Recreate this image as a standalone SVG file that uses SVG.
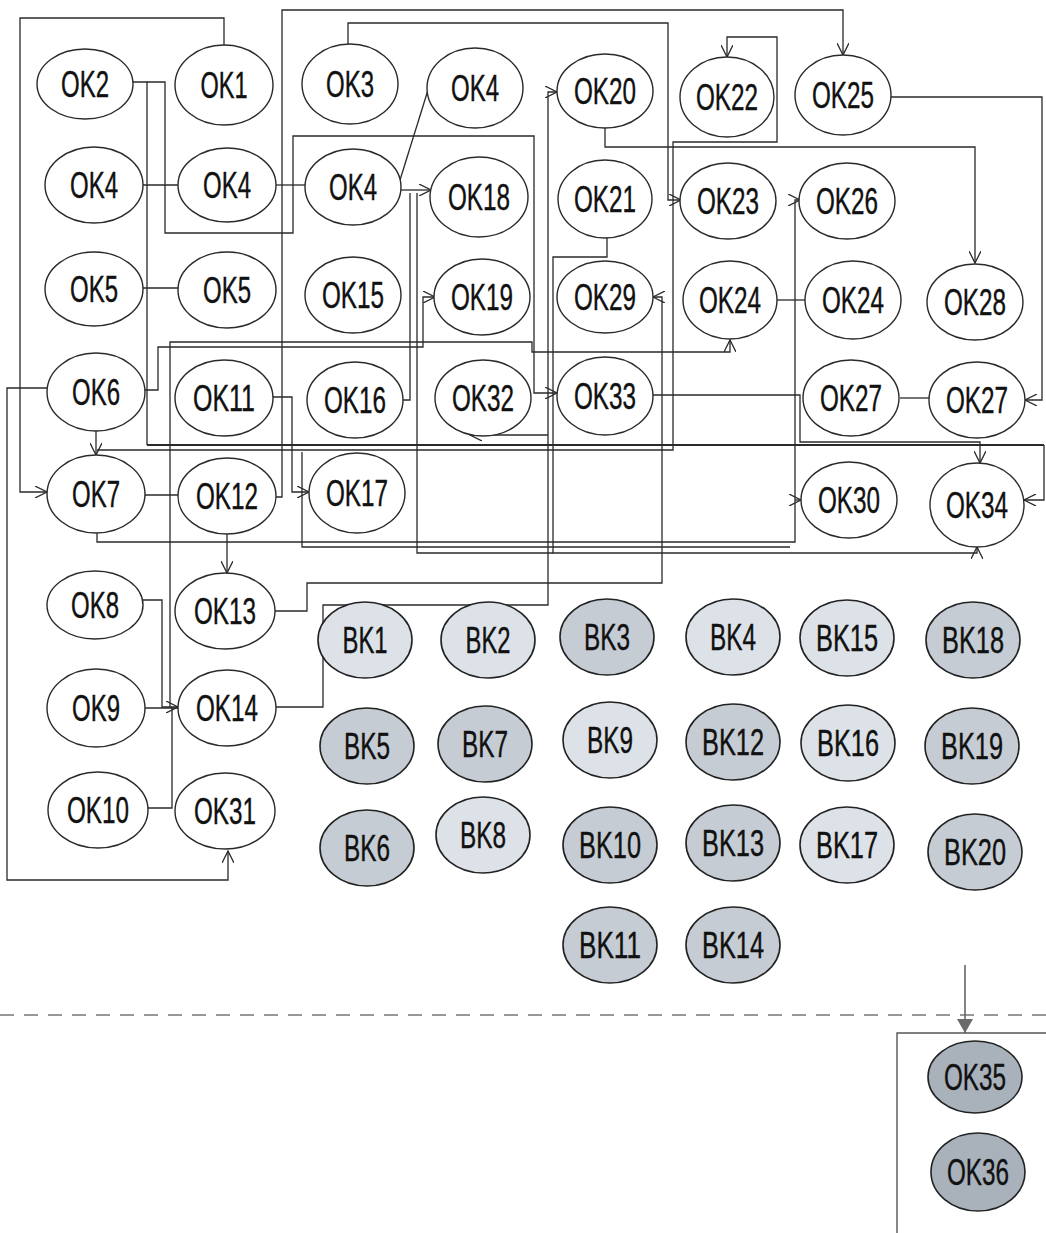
<svg xmlns="http://www.w3.org/2000/svg" width="1046" height="1233" viewBox="0 0 1046 1233">
<defs>
<marker id="ar" markerUnits="userSpaceOnUse" markerWidth="14" markerHeight="12" refX="12" refY="6" orient="auto">
<path d="M0,0 L12,6 L0,12" fill="none" stroke="#2a2a2a" stroke-width="1.3"/>
</marker>
<marker id="fa" markerUnits="userSpaceOnUse" markerWidth="16" markerHeight="16" refX="14" refY="8" orient="auto">
<path d="M0,0 L14,8 L0,16 Z" fill="#6a6a6a"/>
</marker>
</defs>
<style>
.n ellipse{fill:#fff;stroke:#2a2a2a;stroke-width:1.4}
.b ellipse{fill:#dde2e8;stroke:#222;stroke-width:1.6}
.m ellipse{fill:#c6ccd4;stroke:#222;stroke-width:1.6}
.d ellipse{fill:#a9b1bb;stroke:#222;stroke-width:1.6}
text{font-family:"Liberation Sans",Arial,sans-serif;font-size:36px;fill:#111;stroke:#111;stroke-width:0.4;text-anchor:middle}
.c path{fill:none;stroke:#2a2a2a;stroke-width:1.3}
.c path.a{marker-end:url(#ar)}
.c path.t{stroke-width:2}
</style>
<rect width="1046" height="1233" fill="#fff"/>
<g class="c" id="connectors">
<path class="a" d="M224,45 V18 H20 V492 H47"/>
<path class="a" d="M47,388 H7 V880 H228 V851"/>
<path class="a" d="M96,431 V455"/>
<path d="M133,82 H147 V445"/>
<path class="t" d="M147,445 H1044"/>
<path class="a" d="M1044,445 V500 H1024"/>
<path class="a" d="M147,82 H165 V233 H293 V136 H534 V393 H557"/>
<path class="a" d="M891,97 H1042 V400 H1025"/>
<path d="M143,185 H178"/>
<path d="M276,185 H305"/>
<path d="M143,288 H178"/>
<path d="M400,180 L428,90"/>
<path class="a" d="M401,190 H431"/>
<path d="M403,400 H410 V193"/>
<path class="a" d="M145,390 H158 V347 H423 V297 H435"/>
<path class="a" d="M170,707 V342 H532 V352 H730 V340"/>
<path class="a" d="M143,600 H162 V707 H178"/>
<path d="M145,708 H178"/>
<path d="M148,808 H172 V707"/>
<path class="a" d="M276,707 H323 V605 H548 V92 H557"/>
<path class="a" d="M275,611 H307 V583 H662 V297 H653"/>
<path class="a" d="M348,44 V23 H668 V200 H681"/>
<path class="a" d="M605,128 V147 H975 V263"/>
<path class="a" d="M97,450 H673 V142 H777 V37 H727 V57"/>
<path class="a" d="M276,497 H282 V10 H843 V55"/>
<path class="a" d="M273,397 H292 V492 H309"/>
<path class="a" d="M227,534 V573"/>
<path class="a" d="M97,533 V542 H795 V200 H800"/>
<path class="a" d="M795,500 H801"/>
<path class="a" d="M607,238 V257 H553 V553 H977 V547"/>
<path d="M417,193 V553 H553"/>
<path class="a" d="M653,395 H800 V442 H980 V463"/>
<path class="a" d="M548,435 H470"/>
<path d="M145,495 H178"/>
<path d="M302,452 V547 H790"/>
<path d="M777,300 H805"/>
<path d="M900,398 H929"/>
<path d="M0,1015 H1046" style="stroke:#777;stroke-dasharray:14 10"/>
<path d="M965,965 V1033" style="stroke:#666;stroke-width:1.6;marker-end:url(#fa)"/>
<path d="M1046,1033 H897 V1233" style="stroke:#555;stroke-width:1.4"/>
</g>
<g id="OK2" class="n"><ellipse cx="85" cy="84" rx="48" ry="35"/><text x="85" y="97" textLength="48" lengthAdjust="spacingAndGlyphs">OK2</text></g>
<g id="OK1" class="n"><ellipse cx="224" cy="85" rx="49" ry="40"/><text x="224" y="98" textLength="47" lengthAdjust="spacingAndGlyphs">OK1</text></g>
<g id="OK3" class="n"><ellipse cx="350" cy="84" rx="48" ry="40"/><text x="350" y="97" textLength="48" lengthAdjust="spacingAndGlyphs">OK3</text></g>
<g id="OK4a" class="n"><ellipse cx="475" cy="88" rx="48" ry="40"/><text x="475" y="101" textLength="48" lengthAdjust="spacingAndGlyphs">OK4</text></g>
<g id="OK20" class="n"><ellipse cx="605" cy="91" rx="48" ry="37"/><text x="605" y="104" textLength="62" lengthAdjust="spacingAndGlyphs">OK20</text></g>
<g id="OK22" class="n"><ellipse cx="727" cy="97" rx="47" ry="40"/><text x="727" y="110" textLength="62" lengthAdjust="spacingAndGlyphs">OK22</text></g>
<g id="OK25" class="n"><ellipse cx="843" cy="95" rx="48" ry="40"/><text x="843" y="108" textLength="62" lengthAdjust="spacingAndGlyphs">OK25</text></g>
<g id="OK4b" class="n"><ellipse cx="94" cy="185" rx="49" ry="38"/><text x="94" y="198" textLength="48" lengthAdjust="spacingAndGlyphs">OK4</text></g>
<g id="OK4c" class="n"><ellipse cx="227" cy="185" rx="49" ry="37"/><text x="227" y="198" textLength="48" lengthAdjust="spacingAndGlyphs">OK4</text></g>
<g id="OK4d" class="n"><ellipse cx="353" cy="187" rx="48" ry="38"/><text x="353" y="200" textLength="48" lengthAdjust="spacingAndGlyphs">OK4</text></g>
<g id="OK18" class="n"><ellipse cx="479" cy="197" rx="49" ry="40"/><text x="479" y="210" textLength="62" lengthAdjust="spacingAndGlyphs">OK18</text></g>
<g id="OK21" class="n"><ellipse cx="605" cy="199" rx="47" ry="39"/><text x="605" y="212" textLength="62" lengthAdjust="spacingAndGlyphs">OK21</text></g>
<g id="OK23" class="n"><ellipse cx="728" cy="201" rx="48" ry="38"/><text x="728" y="214" textLength="62" lengthAdjust="spacingAndGlyphs">OK23</text></g>
<g id="OK26" class="n"><ellipse cx="847" cy="201" rx="48" ry="38"/><text x="847" y="214" textLength="62" lengthAdjust="spacingAndGlyphs">OK26</text></g>
<g id="OK5a" class="n"><ellipse cx="94" cy="289" rx="49" ry="37"/><text x="94" y="302" textLength="48" lengthAdjust="spacingAndGlyphs">OK5</text></g>
<g id="OK5b" class="n"><ellipse cx="227" cy="290" rx="49" ry="38"/><text x="227" y="303" textLength="48" lengthAdjust="spacingAndGlyphs">OK5</text></g>
<g id="OK15" class="n"><ellipse cx="353" cy="295" rx="48" ry="38"/><text x="353" y="308" textLength="62" lengthAdjust="spacingAndGlyphs">OK15</text></g>
<g id="OK19" class="n"><ellipse cx="482" cy="297" rx="48" ry="38"/><text x="482" y="310" textLength="62" lengthAdjust="spacingAndGlyphs">OK19</text></g>
<g id="OK29" class="n"><ellipse cx="605" cy="297" rx="48" ry="36"/><text x="605" y="310" textLength="62" lengthAdjust="spacingAndGlyphs">OK29</text></g>
<g id="OK24a" class="n"><ellipse cx="730" cy="300" rx="47" ry="39"/><text x="730" y="313" textLength="62" lengthAdjust="spacingAndGlyphs">OK24</text></g>
<g id="OK24b" class="n"><ellipse cx="853" cy="300" rx="48" ry="39"/><text x="853" y="313" textLength="62" lengthAdjust="spacingAndGlyphs">OK24</text></g>
<g id="OK28" class="n"><ellipse cx="975" cy="302" rx="48" ry="38"/><text x="975" y="315" textLength="62" lengthAdjust="spacingAndGlyphs">OK28</text></g>
<g id="OK6" class="n"><ellipse cx="96" cy="392" rx="49" ry="39"/><text x="96" y="405" textLength="48" lengthAdjust="spacingAndGlyphs">OK6</text></g>
<g id="OK11" class="n"><ellipse cx="224" cy="398" rx="49" ry="38"/><text x="224" y="411" textLength="62" lengthAdjust="spacingAndGlyphs">OK11</text></g>
<g id="OK16" class="n"><ellipse cx="355" cy="400" rx="48" ry="38"/><text x="355" y="413" textLength="62" lengthAdjust="spacingAndGlyphs">OK16</text></g>
<g id="OK32" class="n"><ellipse cx="483" cy="398" rx="48" ry="38"/><text x="483" y="411" textLength="62" lengthAdjust="spacingAndGlyphs">OK32</text></g>
<g id="OK33" class="n"><ellipse cx="605" cy="396" rx="48" ry="39"/><text x="605" y="409" textLength="62" lengthAdjust="spacingAndGlyphs">OK33</text></g>
<g id="OK27a" class="n"><ellipse cx="851" cy="398" rx="48" ry="38"/><text x="851" y="411" textLength="62" lengthAdjust="spacingAndGlyphs">OK27</text></g>
<g id="OK27b" class="n"><ellipse cx="977" cy="400" rx="48" ry="38"/><text x="977" y="413" textLength="62" lengthAdjust="spacingAndGlyphs">OK27</text></g>
<g id="OK7" class="n"><ellipse cx="96" cy="494" rx="49" ry="39"/><text x="96" y="507" textLength="48" lengthAdjust="spacingAndGlyphs">OK7</text></g>
<g id="OK12" class="n"><ellipse cx="227" cy="496" rx="49" ry="38"/><text x="227" y="509" textLength="62" lengthAdjust="spacingAndGlyphs">OK12</text></g>
<g id="OK17" class="n"><ellipse cx="357" cy="493" rx="48" ry="40"/><text x="357" y="506" textLength="62" lengthAdjust="spacingAndGlyphs">OK17</text></g>
<g id="OK30" class="n"><ellipse cx="849" cy="500" rx="48" ry="38"/><text x="849" y="513" textLength="62" lengthAdjust="spacingAndGlyphs">OK30</text></g>
<g id="OK34" class="n"><ellipse cx="977" cy="505" rx="47" ry="42"/><text x="977" y="518" textLength="62" lengthAdjust="spacingAndGlyphs">OK34</text></g>
<g id="OK8" class="n"><ellipse cx="95" cy="605" rx="48" ry="34"/><text x="95" y="618" textLength="48" lengthAdjust="spacingAndGlyphs">OK8</text></g>
<g id="OK13" class="n"><ellipse cx="225" cy="611" rx="50" ry="38"/><text x="225" y="624" textLength="62" lengthAdjust="spacingAndGlyphs">OK13</text></g>
<g id="OK9" class="n"><ellipse cx="96" cy="708" rx="49" ry="39"/><text x="96" y="721" textLength="48" lengthAdjust="spacingAndGlyphs">OK9</text></g>
<g id="OK14" class="n"><ellipse cx="227" cy="708" rx="49" ry="38"/><text x="227" y="721" textLength="62" lengthAdjust="spacingAndGlyphs">OK14</text></g>
<g id="OK10" class="n"><ellipse cx="98" cy="810" rx="50" ry="38"/><text x="98" y="823" textLength="62" lengthAdjust="spacingAndGlyphs">OK10</text></g>
<g id="OK31" class="n"><ellipse cx="225" cy="811" rx="50" ry="38"/><text x="225" y="824" textLength="62" lengthAdjust="spacingAndGlyphs">OK31</text></g>
<g id="BK1" class="b"><ellipse cx="365" cy="640" rx="47" ry="38"/><text x="365" y="653" textLength="45" lengthAdjust="spacingAndGlyphs">BK1</text></g>
<g id="BK2" class="b"><ellipse cx="488" cy="640" rx="47" ry="38"/><text x="488" y="653" textLength="45" lengthAdjust="spacingAndGlyphs">BK2</text></g>
<g id="BK3" class="m"><ellipse cx="607" cy="637" rx="47" ry="38"/><text x="607" y="650" textLength="46" lengthAdjust="spacingAndGlyphs">BK3</text></g>
<g id="BK4" class="b"><ellipse cx="733" cy="637" rx="47" ry="38"/><text x="733" y="650" textLength="46" lengthAdjust="spacingAndGlyphs">BK4</text></g>
<g id="BK15" class="b"><ellipse cx="847" cy="638" rx="47" ry="38"/><text x="847" y="651" textLength="62" lengthAdjust="spacingAndGlyphs">BK15</text></g>
<g id="BK18" class="m"><ellipse cx="973" cy="640" rx="47" ry="38"/><text x="973" y="653" textLength="62" lengthAdjust="spacingAndGlyphs">BK18</text></g>
<g id="BK5" class="m"><ellipse cx="367" cy="746" rx="47" ry="38"/><text x="367" y="759" textLength="46" lengthAdjust="spacingAndGlyphs">BK5</text></g>
<g id="BK7" class="m"><ellipse cx="485" cy="744" rx="47" ry="38"/><text x="485" y="757" textLength="46" lengthAdjust="spacingAndGlyphs">BK7</text></g>
<g id="BK9" class="b"><ellipse cx="610" cy="740" rx="47" ry="38"/><text x="610" y="753" textLength="46" lengthAdjust="spacingAndGlyphs">BK9</text></g>
<g id="BK12" class="m"><ellipse cx="733" cy="742" rx="47" ry="38"/><text x="733" y="755" textLength="62" lengthAdjust="spacingAndGlyphs">BK12</text></g>
<g id="BK16" class="b"><ellipse cx="848" cy="743" rx="47" ry="38"/><text x="848" y="756" textLength="62" lengthAdjust="spacingAndGlyphs">BK16</text></g>
<g id="BK19" class="m"><ellipse cx="972" cy="746" rx="47" ry="38"/><text x="972" y="759" textLength="62" lengthAdjust="spacingAndGlyphs">BK19</text></g>
<g id="BK6" class="m"><ellipse cx="367" cy="848" rx="47" ry="38"/><text x="367" y="861" textLength="46" lengthAdjust="spacingAndGlyphs">BK6</text></g>
<g id="BK8" class="b"><ellipse cx="483" cy="835" rx="47" ry="38"/><text x="483" y="848" textLength="46" lengthAdjust="spacingAndGlyphs">BK8</text></g>
<g id="BK10" class="m"><ellipse cx="610" cy="845" rx="47" ry="38"/><text x="610" y="858" textLength="62" lengthAdjust="spacingAndGlyphs">BK10</text></g>
<g id="BK13" class="m"><ellipse cx="733" cy="843" rx="47" ry="38"/><text x="733" y="856" textLength="62" lengthAdjust="spacingAndGlyphs">BK13</text></g>
<g id="BK17" class="b"><ellipse cx="847" cy="845" rx="47" ry="38"/><text x="847" y="858" textLength="62" lengthAdjust="spacingAndGlyphs">BK17</text></g>
<g id="BK20" class="m"><ellipse cx="975" cy="852" rx="47" ry="38"/><text x="975" y="865" textLength="62" lengthAdjust="spacingAndGlyphs">BK20</text></g>
<g id="BK11" class="m"><ellipse cx="610" cy="945" rx="47" ry="38"/><text x="610" y="958" textLength="62" lengthAdjust="spacingAndGlyphs">BK11</text></g>
<g id="BK14" class="m"><ellipse cx="733" cy="945" rx="47" ry="38"/><text x="733" y="958" textLength="62" lengthAdjust="spacingAndGlyphs">BK14</text></g>
<g id="OK35" class="d"><ellipse cx="975" cy="1077" rx="47" ry="36"/><text x="975" y="1090" textLength="62" lengthAdjust="spacingAndGlyphs">OK35</text></g>
<g id="OK36" class="d"><ellipse cx="978" cy="1172" rx="47" ry="39"/><text x="978" y="1185" textLength="62" lengthAdjust="spacingAndGlyphs">OK36</text></g>
</svg>
